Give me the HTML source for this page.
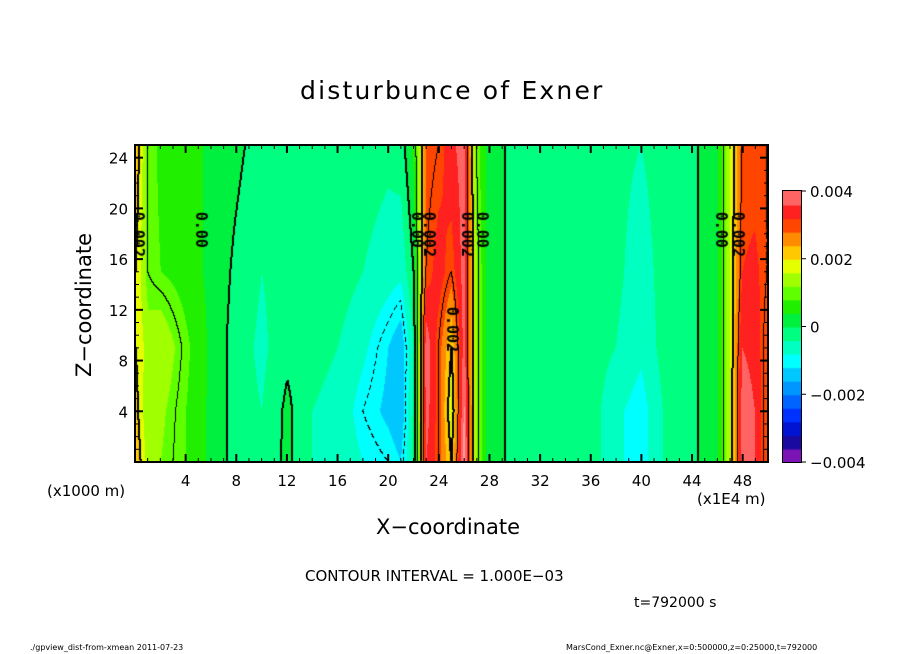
<!DOCTYPE html>
<html><head><meta charset="utf-8"><style>
body{margin:0;background:#fff;width:904px;height:654px;overflow:hidden;font-family:"DejaVu Sans","Liberation Sans",sans-serif}
#wrap{position:relative;width:904px;height:654px}
.t{position:absolute;white-space:nowrap;color:#000}
canvas{position:absolute}
</style></head><body>
<div id="wrap">
<div class="t" style="left:300px;top:76px;font-size:25px;letter-spacing:2.2px">disturbunce of Exner</div>
<canvas id="plot" width="633" height="317" style="left:135px;top:145px"></canvas>
<svg id="ax" width="904" height="654" style="position:absolute;left:0;top:0"></svg>
<canvas id="cbar" width="18" height="271" style="left:783px;top:191px"></canvas>
<div class="t" style="left:47px;top:482px;font-size:15px">(x1000 m)</div>
<div class="t" style="left:697px;top:490px;font-size:15px">(x1E4 m)</div>
<div class="t" style="left:376px;top:515px;font-size:21px">X−coordinate</div>
<div class="t" style="left:84px;top:305px;font-size:21px;transform:translate(-50%,-50%) rotate(-90deg)">Z−coordinate</div>
<div class="t" style="left:305px;top:567px;font-size:15px">CONTOUR INTERVAL = 1.000E−03</div>
<div class="t" style="left:634px;top:595px;font-size:14px">t=792000 s</div>
<div class="t" style="left:30px;top:643px;font-size:8px">./gpview_dist-from-xmean  2011-07-23</div>
<div class="t" style="left:566px;top:643px;font-size:8px">MarsCond_Exner.nc@Exner,x=0:500000,z=0:25000,t=792000</div>
</div>
<script>
const xs=[0,1,2,4,6,8,10,12,14,16,18,20,21,22,23,24,25,26,27,28,30,32,34,36,38,40,42,44,46,47,48,49,50];
const zs=[0,4,9,15,25];
const row0=[2.4,1.4,1.2,0.8,0.3,-.2,-.3,0.1,-.4,-.5,-.8,-1.0,-1.2,-.3,3.6,3.0,2.0,4.2,1.2,0.15,-.1,-.1,-.1,-.2,-.7,-1.0,-.3,-.1,0.3,1.5,3.8,3.6,2.8];
const row1=[2.2,1.2,1.3,0.8,0.3,-.2,-.4,0.1,-.4,-.5,-1.0,-1.3,-1.5,-.3,3.8,3.0,1.6,4.1,1.2,0.15,-.1,-.1,-.1,-.2,-.7,-1.0,-.3,-.1,0.3,1.5,3.8,3.6,2.8];
const row2=[2.0,1.4,1.6,0.9,0.3,-.2,-.5,-.1,-.3,-.4,-.7,-1.2,-1.5,-.4,3.9,3.0,2.0,3.8,1.2,0.15,-.1,-.1,-.1,-.2,-.4,-.7,-.2,-.1,0.3,1.5,3.6,3.5,2.8];
const row3=[2.0,1.0,0.8,0.6,0.3,-.1,-.4,-.2,-.2,-.2,-.4,-.6,-.7,0.0,3.0,3.4,3.0,3.8,1.2,0.15,-.1,-.1,-.2,-.2,-.3,-.6,-.2,-.1,0.3,1.5,3.2,3.3,3.0];
const row4=[2.4,1.0,0.7,0.6,0.3,0.1,-.2,-.1,-.1,-.2,-.2,-.3,-.2,0.5,2.8,3.0,3.5,3.8,1.0,0.15,-.1,-.1,-.1,-.2,-.3,-.4,-.2,-.1,0.3,1.5,3.0,3.0,3.0];
const rows=[row0,row1,row2,row3,row4];
const xTicks=[4,8,12,16,20,24,28,32,36,40,44,48];
const zTicks=[4,8,12,16,20,24];
const cbTicks=[-0.004,-0.002,0,0.002,0.004];
const cbLabels=["−0.004","−0.002","0","0.002","0.004"];
const colors=["#7a14b4","#1a0aa0","#0014d2","#0032ff","#0064ff","#0096ff","#00c8ff","#00ffff","#00ffc0","#00ff80","#00f040","#20f000","#60ff00","#a0ff00","#e6ff00","#ffc800","#ff8c00","#ff4600","#ff2020","#ff6464","#ff9c9c"];
const PX0=135,PX1=768,PY0=145,PY1=462;
const sx=x=>PX0+(x-0)/50*(PX1-PX0);
const sz=z=>PY1-(z/25)*(PY1-PY0);
function interp(arr,keys,v){let i=0;while(i<keys.length-2&&v>keys[i+1])i++;const t=Math.max(0,Math.min(1,(v-keys[i])/(keys[i+1]-keys[i])));return [i,t];}
function val(x,z){const [i,tx]=interp(null,xs,x);const [j,tz]=interp(null,zs,z);
 const a=rows[j][i]*(1-tx)+rows[j][i+1]*tx, b=rows[j+1][i]*(1-tx)+rows[j+1][i+1]*tx;return (a*(1-tz)+b*tz)/1000;}
function band(v){let k=Math.floor((v+0.004)/0.0004);return Math.max(0,Math.min(colors.length-1,k));}
const W=633,H=317,c=document.getElementById('plot').getContext('2d');
const grid=[];
for(let py=0;py<H;py++){grid.push([]);for(let px=0;px<W;px++){grid[py].push(val(px/(W-1)*50,(H-1-py)/(H-1)*25));}}
for(let py=0;py<H;py++)for(let px=0;px<W;px++){c.fillStyle=colors[band(grid[py][px])];c.fillRect(px,py,1,1);}
const levels=[-0.001,0,0.001,0.002,0.003];
c.fillStyle="#000";
for(const L of levels)for(let py=0;py<H-1;py++)for(let px=0;px<W-1;px++){
 const s=grid[py][px]>L,r=grid[py][px+1]>L,d=grid[py+1][px]>L;
 if(s!==r||s!==d){if(L<0&&(py%8)>4)continue;c.fillRect(px,py,(L===0||L===0.002)?2:1,1);}
}
c.font="bold 15px 'DejaVu Sans Mono',monospace";
function lab(t,x,z){c.save();c.translate(sx(x)-PX0,sz(z)-PY0);c.rotate(Math.PI/2);c.fillStyle="#000";c.fillText(t,-22,5);c.restore();}
lab("0.002",0.2,18);lab("0.00",5.2,18);lab("0.00",22.3,18);lab("0.002",23.2,18);lab("0.002",26.2,18);lab("0.00",27.4,18);lab("0.002",25,10.5);lab("0.00",46.3,18);lab("0.002",47.6,18);
const cb=document.getElementById('cbar').getContext('2d');
for(let k=0;k<20;k++){const v=-0.004+(k+0.5)*0.0004;cb.fillStyle=colors[band(v)];const y0=271-(k+1)*271/20;cb.fillRect(0,y0,18,271/20+1);}
const svg=document.getElementById('ax');const NS="http://www.w3.org/2000/svg";
function el(tag,attrs){const e=document.createElementNS(NS,tag);for(const k in attrs)e.setAttribute(k,attrs[k]);svg.appendChild(e);return e;}
const frame=el('rect',{x:PX0,y:PY0,width:PX1-PX0,height:PY1-PY0,fill:'none',stroke:'#000','stroke-width':2});

const cf=el('rect',{x:783,y:191,width:18,height:271,fill:'none',stroke:'#000','stroke-width':2});

for(let x=1;x<50;x++){const big=x%4===0;el('line',{x1:sx(x),x2:sx(x),y1:PY1,y2:PY1-(big?8:4),stroke:'#000','stroke-width':big?2:1});el('line',{x1:sx(x),x2:sx(x),y1:PY0,y2:PY0+(big?8:4),stroke:'#000','stroke-width':big?2:1});}
for(let z=1;z<25;z++){const big=z%4===0;el('line',{x1:PX0,x2:PX0+(big?8:4),y1:sz(z),y2:sz(z),stroke:'#000','stroke-width':big?2:1});el('line',{x1:PX1,x2:PX1-(big?8:4),y1:sz(z),y2:sz(z),stroke:'#000','stroke-width':big?2:1});}
for(const x of xTicks){const t=el('text',{x:sx(x),y:486,'text-anchor':'middle','font-size':15,'font-family':'DejaVu Sans, sans-serif'});t.textContent=x;
}
for(const z of zTicks){const t=el('text',{x:128,y:sz(z)+6,'text-anchor':'end','font-size':15,'font-family':'DejaVu Sans, sans-serif'});t.textContent=z;
}
cbTicks.forEach((v,i)=>{const y=462-(v+0.004)/0.008*271;el('line',{x1:801,x2:806,y1:y,y2:y,stroke:'#000'});
const t=el('text',{x:810,y:y+6,'font-size':15,'font-family':'DejaVu Sans, sans-serif'});t.textContent=cbLabels[i];
});
</script>
</body></html>
